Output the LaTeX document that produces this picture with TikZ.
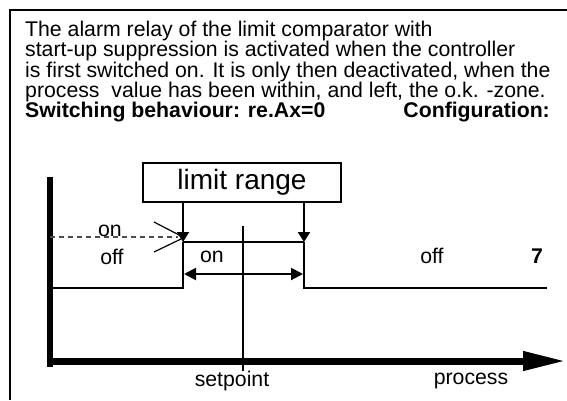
\documentclass[tikz,border=0pt]{standalone}
\usepackage{fontspec}
\setmainfont{Liberation Sans}
\usetikzlibrary{arrows.meta}
\begin{document}
\begin{tikzpicture}[x=1pt,y=-1pt,
  txt/.style={anchor=base west,inner sep=0pt,font=\fontsize{21.25}{22}\selectfont},
  lbl/.style={inner sep=0pt,font=\fontsize{21.25}{22}\selectfont},
  thin/.style={line width=2pt},
  axis/.style={line width=6.5pt},
  vtip/.style={-{Triangle[length=10pt,width=12pt]}},
  htip/.style={{Triangle[length=12pt,width=12pt]}-{Triangle[length=12pt,width=12pt]}}]
\useasboundingbox (0,0) rectangle (567,400);
% frame
\coordinate (ftr) at (567,10);
\coordinate (fc) at (10,10);
\coordinate (fbl) at (10,400);
\draw[line width=2pt] (ftr) -- (fc) -- (fbl);
% text
\node[txt] (l1) at (25,36) {The alarm relay of the limit comparator with};
\node[txt] (l2) at (25,56.5) {start-up suppression is activated when the controller};
\node[txt] (l3) at (25,77) {is first switched on. It is only then deactivated, when the};
\node[txt] (l4) at (25,97) {process~ value has been within, and left, the o.k. -zone.};
\node[txt,font=\fontsize{21.25}{22}\selectfont\bfseries] (l5) at (25,117) {Switching behaviour: re.Ax=0};
\node[txt,anchor=base east,font=\fontsize{21.25}{22}\selectfont\bfseries] (l6) at (550,117) {Configuration:};
% limit range box
\node[draw,line width=2pt,minimum width=198pt,minimum height=39pt,inner sep=0pt,
  font=\fontsize{28}{29}\selectfont] (lr) at (242,182.5) {limit range};
% axes
\coordinate (ytop) at (50,177);
\coordinate (ybot) at (50,367);
\coordinate (xstart) at (46.75,361);
\coordinate (xend) at (566,361);
\draw[axis] (ytop) -- (ybot);
\draw[line width=7pt,-{Triangle[length=43pt,width=18pt]}] (xstart) -- (xend);
% key points
\coordinate (a1) at (183,242);
\coordinate (a2) at (304,242);
\coordinate (b1) at (183,288);
\coordinate (b2) at (304,288);
\coordinate (offL) at (50,288);
\coordinate (offR) at (547,288);
\draw[thin,vtip] (lr.south -| a1) -- (a1);
\draw[thin,vtip] (lr.south -| a2) -- (a2);
\draw[thin] (a1) -- (a2);
\draw[thin] (offL) -- (b1) -- (a1);
\draw[thin] (a2) -- (b2) -- (offR);
% setpoint line
\coordinate (sp) at (243,226);
\coordinate (spb) at (243,371);
\draw[thin] (sp) -- (spb);
% double arrow
\coordinate (d1) at (184,274);
\coordinate (d2) at (303,274);
\draw[thin,htip] (d1) -- (d2);
% dashed on-level
\coordinate (dl) at (50,237);
\coordinate (dr) at (178,237);
\draw[line width=1.3pt,dash pattern=on 5pt off 4pt,black!70] (dl) -- (dr);
% pointer lines
\coordinate (p1) at (154,222);
\coordinate (p2) at (181,236);
\coordinate (p3) at (154,252);
\coordinate (p4) at (181,239);
\draw[line width=1.2pt] (p1) -- (p2);
\draw[line width=1.2pt] (p3) -- (p4);
% labels
\node[lbl] (on1) at (110,231) {on};
\node[lbl] (off1) at (112,257) {off};
\node[lbl] (on2) at (212,257) {on};
\node[lbl] (off2) at (432,256) {off};
\node[lbl,font=\fontsize{21.25}{22}\selectfont\bfseries] (seven) at (537,256) {7};
\node[lbl] (spl) at (232,381) {setpoint};
\node[lbl] (prl) at (471,381) {process};
\end{tikzpicture}
\end{document}
